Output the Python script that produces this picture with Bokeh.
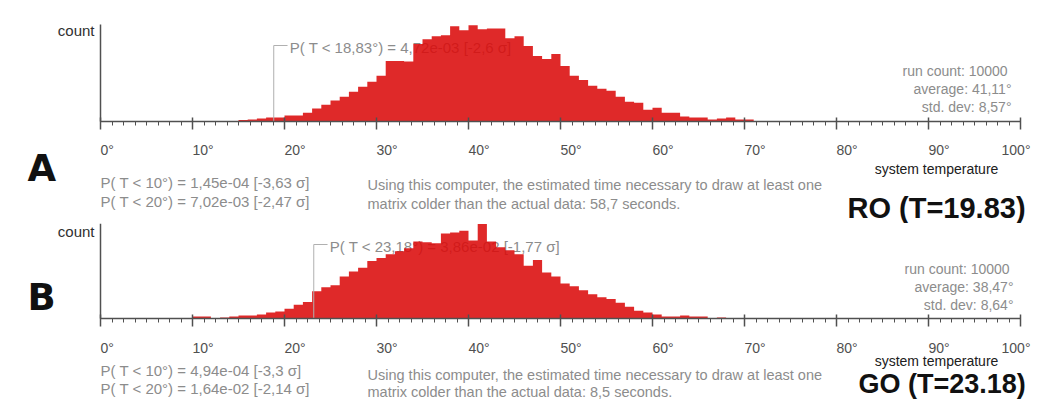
from bokeh.plotting import figure
from bokeh.layouts import column
from bokeh.models import Range1d, FixedTicker, SingleIntervalTicker, Label
from bokeh.core.properties import value
from bokeh.embed import file_html
from bokeh.resources import INLINE

# ---------------- data ----------------
# panel A (RO): 1-degree bins, left edges
a_bins = list(range(15, 71))
a_counts = [7, 9, 14, 18, 18, 28, 28, 41, 60, 78,
            97, 115, 138, 161, 184, 212, 281, 281, 278, 359,
            382, 396, 400, 442, 423, 446, 428, 432, 432, 386,
            396, 350, 304, 290, 313, 258, 212, 193, 166, 152,
            143, 115, 92, 87, 55, 64, 41, 41, 23, 18,
            18, 9, 14, 18, 9, 9]
a_threshold = 18.83
a_marker_text = "P( T < 18,83°) = 4,72e-03   [-2,6 σ]"
a_prob_lines = ["P( T < 10°) = 1,45e-04   [-3,63 σ]",
                "P( T < 20°) = 7,02e-03   [-2,47 σ]"]
a_time_lines = ["Using this computer, the estimated time necessary to draw at least one",
                "matrix colder than the actual data: 58,7 seconds."]
a_stats = ["run count:  10000", "average: 41,11°", "std. dev: 8,57°"]
a_title = "RO (T=19.83)"
a_letter = "A"

# panel B (GO)
b_bins = list(range(10, 68))
b_counts = [10, 10, 0, 5, 10, 15, 15, 20, 30, 35,
            49, 69, 84, 138, 158, 168, 212, 237, 256, 291,
            306, 325, 340, 355, 389, 385, 380, 429, 434, 444,
            394, 478, 389, 360, 345, 325, 266, 296, 232, 212,
            177, 163, 143, 123, 108, 99, 79, 59, 39, 30,
            20, 10, 10, 15, 10, 10, 0, 5]
b_threshold = 23.18
b_marker_text = "P( T < 23,18°) = 3,86e-02   [-1,77 σ]"
b_prob_lines = ["P( T < 10°) = 4,94e-04   [-3,3 σ]",
                "P( T < 20°) = 1,64e-02   [-2,14 σ]"]
b_time_lines = ["Using this computer, the estimated time necessary to draw at least one",
                "matrix colder than the actual data: 8,5 seconds."]
b_stats = ["run count:  10000", "average: 38,47°", "std. dev: 8,64°"]
b_title = "GO (T=23.18)"
b_letter = "B"

tick_values = [0, 10, 20, 30, 40, 50, 60, 70, 80, 90, 100]
tick_labels = ["0°", "10°", "20°", "30°", "40°", "50°", "60°", "70°", "80°", "90°", "100°"]
x_axis_title = "system temperature"
y_axis_title = "count"

# ---------------- style / layout ----------------
FONT = "Liberation Sans"
BAR = "#db0b0b"
GRAY = "#8c8c8c"
AXIS = "#505050"
W = 1031
PX_PER_DEG = 9.2
ORIGIN_X = 100      # page x of 0 degrees


def make_panel(bins, counts, ymax, page_top, height, base_y, top_y,
               threshold, marker_text, marker_top, prob_lines, prob_y,
               time_lines, time_y, stats, stats_right, stats_y,
               xt_y, xtitle_y, title, title_x, title_mid, title_size,
               letter, letter_mid, count_y):
    k = ymax / (base_y - top_y)

    def dx(px):
        return (px - ORIGIN_X) / PX_PER_DEG

    def dy(py):
        return (base_y - py) * k

    p = figure(width=W, height=height, output_backend="svg", toolbar_location=None,
               x_range=Range1d(dx(0), dx(W)),
               y_range=Range1d(dy(page_top + height), dy(page_top)),
               min_border=0, min_border_left=0, min_border_right=0,
               min_border_top=0, min_border_bottom=0)
    p.grid.visible = False
    p.outline_line_color = None
    p.background_fill_color = "white"
    p.border_fill_color = "white"

    # marker text sits under the bars
    p.text(x=[dx(ORIGIN_X + PX_PER_DEG * threshold + 16)], y=[dy(marker_top + 2)],
           text=[marker_text], text_font=value(FONT), text_font_size=value("15px"),
           text_color=GRAY, text_align="left", text_baseline="middle")

    xs = bins + [bins[-1] + 1]
    ys = counts + [counts[-1]]
    p.varea_step(x=xs, y1=[0] * len(xs), y2=ys, step_mode="after",
                 fill_color=BAR, fill_alpha=0.88)

    p.line(x=[threshold, threshold, threshold + 1.5], y=[0, dy(marker_top), dy(marker_top)],
           line_color="#b0b0b0", line_width=1)

    # axes, pinned to the data origin
    xa = p.xaxis[0]
    xa.fixed_location = 0
    xa.bounds = (tick_values[0], tick_values[-1])
    xa.ticker = SingleIntervalTicker(interval=10, num_minor_ticks=8)
    xa.axis_line_color = AXIS
    xa.axis_line_width = 1.5
    xa.major_tick_line_color = AXIS
    xa.major_tick_line_width = 1.5
    xa.major_tick_in = 4
    xa.major_tick_out = 8
    xa.minor_tick_line_color = AXIS
    xa.minor_tick_line_width = 1
    xa.minor_tick_in = 0
    xa.minor_tick_out = 4
    xa.major_label_text_color = None

    ya = p.yaxis[0]
    ya.fixed_location = 0
    ya.bounds = (0, ymax)
    ya.ticker = FixedTicker(ticks=[])
    ya.axis_line_color = AXIS
    ya.axis_line_width = 1.5
    ya.major_label_text_color = None

    def lab(text, px, py, size="15px", color=GRAY, align="left",
            font=FONT, style="normal"):
        p.add_layout(Label(x=dx(px), y=dy(py), text=text, text_font=font,
                           text_font_size=size, text_color=color, text_align=align,
                           text_baseline="middle", text_font_style=style))

    for i, (tv, tl) in enumerate(zip(tick_values, tick_labels)):
        last = i == len(tick_values) - 1
        p.add_layout(Label(x=tv, y=dy(xt_y), text=tl, text_font=FONT,
                           text_font_size="14px", text_color="#505050",
                           text_align="right" if last else "left",
                           x_offset=10 if last else 0, text_baseline="middle"))

    lab(y_axis_title, ORIGIN_X - 6, count_y, color="#303030", align="right")
    lab(x_axis_title, 936, xtitle_y, size="14px", color="#202020", align="center")
    for t, yy in zip(prob_lines, prob_y):
        lab(t, ORIGIN_X, yy)
    for t, yy in zip(time_lines, time_y):
        lab(t, 367, yy, size="14.5px")
    for t, yy in zip(stats, stats_y):
        lab(t, stats_right, yy, size="14px", align="right")
    lab(title, title_x, title_mid, size=title_size, color="#111111", font=FONT, style="bold")
    lab(letter, 27, letter_mid, size="37px", color="#111111", font="DejaVu Sans", style="bold")
    return p


H_A = 223
pa = make_panel(a_bins, a_counts, 450, 0, H_A, 121, 24,
                a_threshold, a_marker_text, 45, a_prob_lines, [182, 201],
                a_time_lines, [184, 203], a_stats, 1011, [70, 88, 106],
                149, 168, a_title, 847, 207, "29px", a_letter, 168, 30)

pb = make_panel(b_bins, b_counts, 480, H_A, 401 - H_A, 318, 223,
                b_threshold, b_marker_text, 244, b_prob_lines, [370, 388],
                b_time_lines, [374, 391], b_stats, 1013, [268, 286, 304],
                347, 360, b_title, 858, 383, "27px", b_letter, 297, 231)

layout = column(pa, pb, spacing=0)
open("out.html", "w").write(file_html(layout, INLINE))
